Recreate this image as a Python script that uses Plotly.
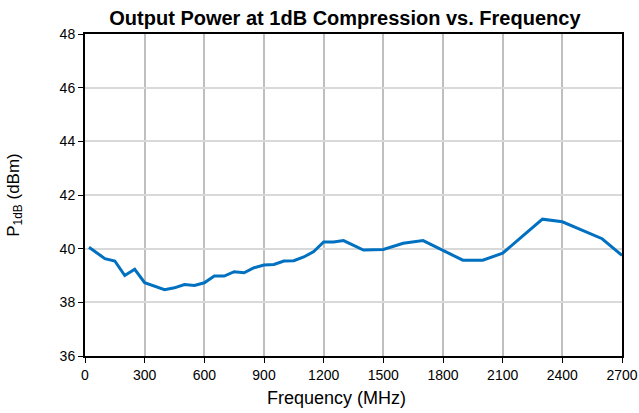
import plotly.graph_objects as go

freq_mhz = [20, 100, 150, 200, 250, 300, 400, 450, 500, 550, 600, 650, 700, 750, 800,
            850, 900, 950, 1000, 1050, 1100, 1150, 1200, 1250, 1300, 1400, 1500, 1600,
            1700, 1800, 1900, 2000, 2100, 2200, 2300, 2400, 2500, 2600, 2700]
p1db_dbm = [40.05, 39.63, 39.54, 39.0, 39.23, 38.73, 38.47, 38.54, 38.66, 38.63, 38.73,
            38.98, 38.98, 39.14, 39.1, 39.29, 39.39, 39.41, 39.54, 39.55, 39.69, 39.89,
            40.25, 40.25, 40.3, 39.95, 39.97, 40.2, 40.3, 39.95, 39.57, 39.57, 39.83,
            40.47, 41.1, 41.0, 40.68, 40.37, 39.75]

x_ticks = [0, 300, 600, 900, 1200, 1500, 1800, 2100, 2400, 2700]
y_ticks = [36, 38, 40, 42, 44, 46, 48]

fig = go.Figure()
fig.add_trace(go.Scatter(x=freq_mhz, y=p1db_dbm, mode="lines",
                         line=dict(color="#0070C0", width=3), showlegend=False))

fig.update_layout(
    width=639, height=413,
    margin=dict(l=85, r=17, t=34, b=57, autoexpand=False),
    paper_bgcolor="white", plot_bgcolor="white",
    font=dict(family="Arial, Liberation Sans, sans-serif", size=14, color="#000000"),
    title=dict(text="<b>Output Power at 1dB Compression vs. Frequency</b>",
               x=0.484, xanchor="center", xref="paper",
               y=1 - 18 / 413, yanchor="middle", yref="container",
               font=dict(size=20, color="#000000"), automargin=False),
    annotations=[dict(text="Frequency (MHz)", xref="paper", yref="paper",
                      x=0.469, y=-0.168, xanchor="center", yanchor="bottom",
                      showarrow=False, font=dict(size=18, color="#000000"))],
)
fig.update_xaxes(
    range=[0, 2700], tickvals=x_ticks, ticktext=[str(v) for v in x_ticks],
    showgrid=True, gridcolor="#BFBFBF", gridwidth=2,
    showline=True, linecolor="black", linewidth=2, mirror=True,
    ticks="outside", ticklen=5, tickcolor="black", tickwidth=1,
    zeroline=False, automargin=False, ticklabeloverflow="allow",
)
fig.update_yaxes(
    range=[36, 48], tickvals=y_ticks, ticktext=[str(v) for v in y_ticks],
    showgrid=True, gridcolor="#D9D9D9", gridwidth=2,
    showline=True, linecolor="black", linewidth=2, mirror=True,
    ticks="outside", ticklen=5, tickcolor="black", tickwidth=1,
    zeroline=False, automargin=False,
    title=dict(text="P<sub>1dB</sub> (dBm)", font=dict(size=17), standoff=36),
)

# remove the page's default body margin so the figure fills the window exactly
fig.write_html(
    "out.html",
    config={"displayModeBar": False},
    post_script=(
        "document.body.style.margin='0';"
        "document.documentElement.style.overflow='hidden';"
        "document.body.style.overflow='hidden';"
    ),
)
